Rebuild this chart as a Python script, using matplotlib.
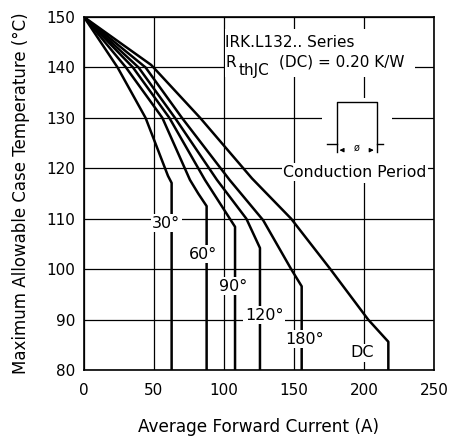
import matplotlib
matplotlib.use("Agg")
import matplotlib.pyplot as plt
from matplotlib.patches import Rectangle

# curve data: (average forward current A, case temperature degC)
i_30 = [0, 24, 44, 60, 62.6, 62.6]
t_30 = [150, 140, 130, 118.5, 117.1, 80]

i_60 = [0, 30, 56, 75.7, 81.6, 87.6, 87.6]
t_60 = [150, 140, 130, 117.7, 115, 112.5, 80]

i_90 = [0, 35, 61, 86.4, 107.9, 107.9]
t_90 = [150, 140, 130, 117.7, 108.4, 80]

i_120 = [0, 39, 65, 95, 116, 125.7, 125.7]
t_120 = [150, 140, 130, 117.7, 110, 104.2, 80]

i_180 = [0, 44, 70, 104, 128, 148, 155.5, 155.5]
t_180 = [150, 140, 130, 117.7, 109.7, 100, 96.6, 80]

i_dc = [0, 48, 83, 120, 148, 176, 203, 217.4, 217.4]
t_dc = [150, 140.5, 130, 118, 110, 100, 90, 85.6, 80]

curves = [(i_30, t_30), (i_60, t_60), (i_90, t_90),
          (i_120, t_120), (i_180, t_180), (i_dc, t_dc)]

labels = ["30°", "60°", "90°", "120°", "180°", "DC"]
label_x = [58.6, 85, 106.2, 128.6, 157.9, 199]
label_y = [109.1, 103, 96.6, 90.9, 86.1, 83.4]

x_ticks = [0, 50, 100, 150, 200, 250]
y_ticks = [80, 90, 100, 110, 120, 130, 140, 150]

fig = plt.figure(figsize=(4.53, 4.37), dpi=100)
ax = fig.add_axes([0.1854, 0.1533, 0.7726, 0.8077])
ax.set_xlim(0, 250)
ax.set_ylim(80, 150)
ax.set_xticks(x_ticks)
ax.set_yticks(y_ticks)
ax.tick_params(length=0, labelsize=11)
ax.tick_params(axis="x", pad=9)
ax.tick_params(axis="y", pad=6)
ax.grid(True, color="black", linewidth=0.9)
ax.set_axisbelow(True)
for s in ax.spines.values():
    s.set_linewidth(1.2)

for xs, ys in curves:
    ax.plot(xs, ys, color="black", linewidth=1.8, zorder=3)

box = dict(facecolor="white", edgecolor="none", pad=1)
for lab, lx, ly in zip(labels, label_x, label_y):
    ax.text(lx, ly, lab, ha="center", va="center", fontsize=11.5, bbox=box, zorder=5)

# series text block
ax.add_patch(Rectangle((100.6, 138.2), 136, 9.5, facecolor="white", edgecolor="none", zorder=2))
ax.text(100.8, 144.9, "IRK.L132.. Series", ha="left", va="center", fontsize=11, zorder=4)
ax.text(100.8, 141.0, "R", ha="left", va="center", fontsize=11, zorder=4)
ax.text(110.5, 139.3, "thJC", ha="left", va="center", fontsize=11, zorder=4)
ax.text(139, 141.0, "(DC) = 0.20 K/W", ha="left", va="center", fontsize=11, zorder=4)

# conduction period sketch
ax.add_patch(Rectangle((170, 117), 50, 17, facecolor="white", edgecolor="none", zorder=2))
ax.plot([180.5, 180.5, 209, 209], [123.3, 133.2, 133.2, 123.3], color="black", lw=1.0, zorder=4)
ax.plot([173.4, 180.5], [124.9, 124.9], color="black", lw=1.0, zorder=4)
ax.plot([209, 213.8], [124.9, 124.9], color="black", lw=1.0, zorder=4)
ax.annotate("", xy=(180.5, 123.6), xytext=(187, 123.6),
            arrowprops=dict(arrowstyle="-|>", lw=0.8, color="black", mutation_scale=6), zorder=4)
ax.annotate("", xy=(209, 123.6), xytext=(202, 123.6),
            arrowprops=dict(arrowstyle="-|>", lw=0.8, color="black", mutation_scale=6), zorder=4)
ax.text(194.5, 124.0, "ø", ha="center", va="center", fontsize=7, zorder=4)
ax.text(193.6, 119.2, "Conduction Period", ha="center", va="center", fontsize=11.3,
        bbox=box, zorder=4)

ax.set_xlabel("Average Forward Current (A)", fontsize=12.2, labelpad=15)
ax.set_ylabel("Maximum Allowable Case Temperature (°C)", fontsize=12, labelpad=12)

fig.savefig("out.png", dpi=100)
